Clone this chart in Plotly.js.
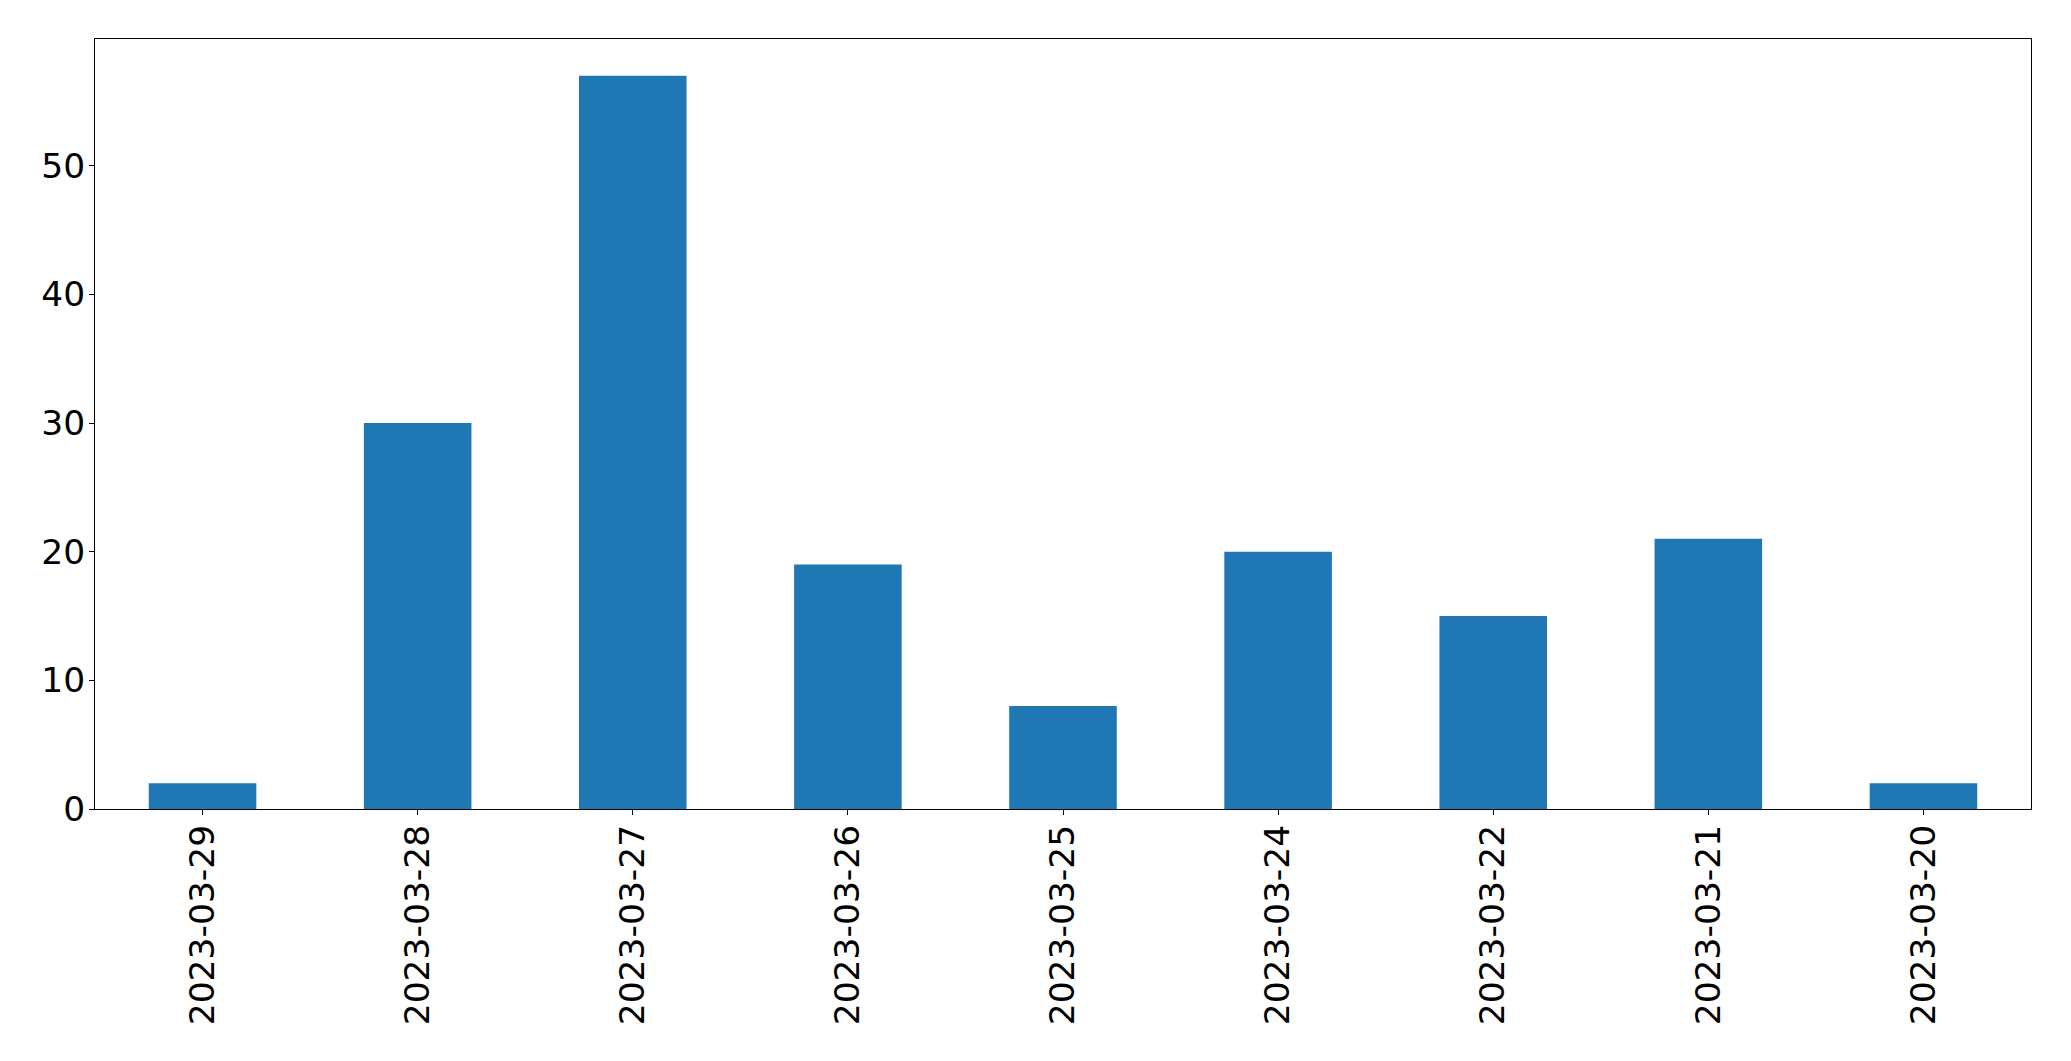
<!DOCTYPE html>
<html>
<head>
<meta charset="utf-8">
<script src="https://cdn.plot.ly/plotly-3.0.1.min.js"></script>
<style>html,body{margin:0;padding:0;background:#fff;}#chart{width:2071px;height:1061px;}</style>
</head>
<body>
<div id="chart"></div>
<script>
const dates = ["2023-03-29","2023-03-28","2023-03-27","2023-03-26","2023-03-25","2023-03-24","2023-03-22","2023-03-21","2023-03-20"];
const counts = [2, 30, 57, 19, 8, 20, 15, 21, 2];
const yTicks = [0, 10, 20, 30, 40, 50];

const font = {family: "DejaVu Sans", size: 34.5, color: "#000"};
Plotly.newPlot("chart", [{
  type: "bar",
  x: dates,
  y: counts,
  marker: {color: "#1f77b4", line: {width: 0}},
  hoverinfo: "x+y"
}], {
  width: 2071, height: 1061,
  margin: {l: 95, r: 40, t: 39, b: 252, pad: 0},
  paper_bgcolor: "#fff", plot_bgcolor: "#fff",
  bargap: 0.5,
  showlegend: false,
  font: font,
  xaxis: {
    type: "category",
    range: [-0.5, dates.length - 0.5],
    tickangle: -90,
    ticks: "outside", ticklen: 5, tickwidth: 1, tickcolor: "#000",
    showline: true, linecolor: "#000", linewidth: 1, mirror: true,
    showgrid: false, zeroline: false,
    tickfont: font,
    ticklabelstandoff: -4
  },
  yaxis: {
    range: [0, 59.85],
    tickvals: yTicks,
    ticktext: yTicks.map(String),
    ticks: "outside", ticklen: 5, tickwidth: 1, tickcolor: "#000",
    showline: true, linecolor: "#000", linewidth: 1, mirror: true,
    showgrid: false, zeroline: false,
    tickfont: font,
    ticklabelstandoff: -3
  }
}, {displayModeBar: false, staticPlot: true});
</script>
</body>
</html>
